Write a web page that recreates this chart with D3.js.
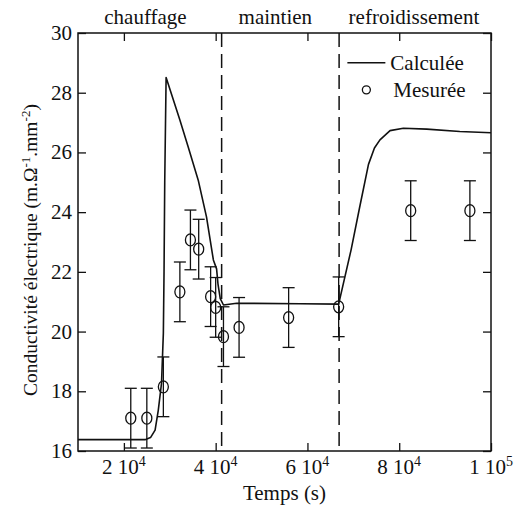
<!DOCTYPE html>
<html>
<head>
<meta charset="utf-8">
<script src="https://cdn.jsdelivr.net/npm/d3@7"></script>
<style>
  body { margin: 0; background: #fff; }
</style>
</head>
<body>
<svg id="chart" width="518" height="511"></svg>
<script>
// measured conductivity (circles with error bars)
const measT = [21500, 25000, 28600, 32200, 34500, 36300, 38900, 40000, 41700, 45100, 55900, 66800, 82500, 95400];
const measV = [17.1, 17.1, 18.15, 21.33, 23.07, 22.76, 21.17, 20.81, 19.83, 20.14, 20.47, 20.83, 24.05, 24.05];
const measErr = [1, 1, 1, 1, 1, 1, 1, 1, 1, 1, 1, 1, 1, 1];

// calculated curve
const calcT = [10000, 24600, 25800, 26800, 27500, 28200, 28600, 28750, 28900, 29200, 32200, 34000, 36200, 38000,
  39500, 40200, 40500, 41000, 41700, 44600, 58400, 66800, 69500, 71400, 73300, 74600, 75800, 78000, 80900,
  86000, 93200, 100000];
const calcV = [16.38, 16.38, 16.45, 16.7, 17.37, 18.27, 19.94, 22, 25, 28.51, 27.09, 26.19, 25.07, 23.84,
  22.4, 22.1, 21.6, 21.1, 20.89, 20.95, 20.93, 20.92, 22.73, 24.18, 25.6, 26.15, 26.42, 26.73, 26.81,
  26.78, 26.70, 26.66];

// phase boundaries and labels
const phaseEdges = [41300, 66900];
const phaseNames = ['chauffage', 'maintien', 'refroidissement'];
const phaseMid = [24700, 53000, 83200];

const xTicks = [20000, 40000, 60000, 80000, 100000];
const xTickBase = ['2', '4', '6', '8', '1'];
const xTickExp = ['4', '4', '4', '4', '5'];
const yTicks = [16, 18, 20, 22, 24, 26, 28, 30];

const fontFam = '"Liberation Serif"';

var margins = { top: 33, right: 27, left: 78, bottom: 60 };
var svg = d3.select('#chart');
const width = svg.attr('width') - margins.left - margins.right;
const height = svg.attr('height') - margins.top - margins.bottom;

var g = svg.append('g')
  .attr('transform', 'translate(' + margins.left + ',' + margins.top + ')');

var x = d3.scaleLinear().domain([10000, 100000]).range([0, width]);
var y = d3.scaleLinear().domain([16, 30]).range([height, 0]);

function txt(sel, size) {
  return sel.style('font-family', fontFam).attr('font-size', size).attr('fill', '#111');
}

// axes, ticks pointing inward on all four sides
g.append('g').attr('transform', 'translate(0,' + height + ')')
  .call(d3.axisBottom(x).tickValues(xTicks).tickSizeInner(-8).tickSizeOuter(0).tickFormat(''));
g.append('g')
  .call(d3.axisTop(x).tickValues(xTicks).tickSizeInner(-8).tickSizeOuter(0).tickFormat(''));
g.append('g')
  .call(d3.axisLeft(y).tickValues(yTicks).tickSizeInner(-8).tickSizeOuter(0).tickFormat(''));
g.append('g').attr('transform', 'translate(' + width + ',0)')
  .call(d3.axisRight(y).tickValues(yTicks).tickSizeInner(-8).tickSizeOuter(0).tickFormat(''));
g.selectAll('.domain').remove();
g.selectAll('.tick line').attr('stroke', '#111').attr('stroke-width', 1.3);

g.append('rect')
  .attr('width', width).attr('height', height)
  .attr('fill', 'none').attr('stroke', '#111').attr('stroke-width', 1.5);

// tick labels
var xl = txt(g.selectAll('.xlab').data(xTicks).enter().append('text'), 21)
  .attr('x', d => x(d)).attr('y', height + 23)
  .attr('text-anchor', 'middle');
xl.append('tspan').text((d, i) => xTickBase[i] + ' 10');
xl.append('tspan').attr('dy', -8).attr('font-size', 14).text((d, i) => xTickExp[i]);

txt(g.selectAll('.ylab').data(yTicks).enter().append('text'), 21)
  .attr('x', -6).attr('y', d => y(d) + 7)
  .attr('text-anchor', 'end')
  .text(d => d);

// axis titles
txt(svg.append('text'), 21)
  .attr('x', margins.left + width / 2).attr('y', 500)
  .attr('text-anchor', 'middle')
  .text('Temps (s)');

var yt = txt(svg.append('text'), 19.5)
  .attr('transform', 'translate(37,250) rotate(-90)')
  .attr('text-anchor', 'middle');
yt.append('tspan').text('Conductivité électrique (m.Ω');
yt.append('tspan').attr('dy', -7).attr('font-size', 13).text('-1');
yt.append('tspan').attr('dy', 7).text('.mm');
yt.append('tspan').attr('dy', -7).attr('font-size', 13).text('-2');
yt.append('tspan').attr('dy', 7).text(')');

// phase labels above the plot
txt(g.selectAll('.phase').data(phaseNames).enter().append('text'), 21)
  .attr('x', (d, i) => x(phaseMid[i])).attr('y', -9)
  .attr('text-anchor', 'middle')
  .text(d => d);

// dashed phase boundaries
g.selectAll('.edge').data(phaseEdges).enter().append('line')
  .attr('x1', d => x(d)).attr('x2', d => x(d))
  .attr('y1', 0).attr('y2', height)
  .attr('stroke', '#111').attr('stroke-width', 1.5)
  .attr('stroke-dasharray', '14,7');

// calculated curve
var line = d3.line()
  .x(d => x(d[0])).y(d => y(d[1]));
g.append('path')
  .datum(d3.zip(calcT, calcV))
  .attr('fill', 'none').attr('stroke', '#111').attr('stroke-width', 1.6)
  .attr('stroke-linejoin', 'round')
  .attr('d', line);

// measured points with error bars
const meas = d3.zip(measT, measV, measErr);
var pts = g.selectAll('.pt').data(meas).enter().append('g');
pts.append('line')
  .attr('x1', d => x(d[0])).attr('x2', d => x(d[0]))
  .attr('y1', d => y(d[1] - d[2])).attr('y2', d => y(d[1] + d[2]))
  .attr('stroke', '#111').attr('stroke-width', 1.3);
pts.append('line')
  .attr('x1', d => x(d[0]) - 6).attr('x2', d => x(d[0]) + 6)
  .attr('y1', d => y(d[1] + d[2])).attr('y2', d => y(d[1] + d[2]))
  .attr('stroke', '#111').attr('stroke-width', 1.3);
pts.append('line')
  .attr('x1', d => x(d[0]) - 6).attr('x2', d => x(d[0]) + 6)
  .attr('y1', d => y(d[1] - d[2])).attr('y2', d => y(d[1] - d[2]))
  .attr('stroke', '#111').attr('stroke-width', 1.3);
pts.append('ellipse')
  .attr('cx', d => x(d[0])).attr('cy', d => y(d[1]))
  .attr('rx', 5).attr('ry', 6)
  .attr('fill', 'none').attr('stroke', '#111').attr('stroke-width', 1.3);

// legend
var leg = g.append('g').attr('transform', 'translate(' + x(68700) + ',' + y(29.0) + ')');
leg.append('line').attr('x1', 0).attr('x2', 38).attr('y1', 0).attr('y2', 0)
  .attr('stroke', '#111').attr('stroke-width', 1.5);
txt(leg.append('text'), 21).attr('x', 43).attr('y', 7).text('Calculée');
leg.append('ellipse').attr('cx', 19).attr('cy', 27).attr('rx', 4).attr('ry', 4)
  .attr('fill', 'none').attr('stroke', '#111').attr('stroke-width', 1.3);
txt(leg.append('text'), 21).attr('x', 46).attr('y', 34).text('Mesurée');
</script>
</body>
</html>
